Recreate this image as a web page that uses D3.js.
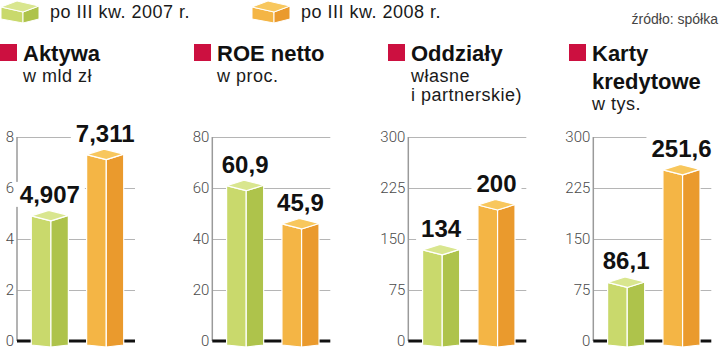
<!DOCTYPE html>
<html>
<head>
<meta charset="utf-8">
<script src="https://cdn.jsdelivr.net/npm/d3@7"></script>
<style>
  html, body { margin: 0; padding: 0; background: #fff; }
  svg { display: block; }
  .reg { font-family: "Liberation Sans", Arial, sans-serif; }
  .tick text { font-family: Roboto, "Liberation Sans", sans-serif; font-weight: 300; }
</style>
</head>
<body>
<svg id="chart" width="720" height="349"></svg>
<script>
// ---- data ----
const seriesNames = ["po III kw. 2007 r.", "po III kw. 2008 r."];
const categories = ["Aktywa", "ROE netto", "Oddziały", "Karty kredytowe"];
const values2007 = [4.907, 60.9, 134, 86.1];
const values2008 = [7.311, 45.9, 200, 251.6];
const decimals = [3, 1, 0, 1];
const axisMax = [8, 80, 300, 300];
const tickValues = [
  [0, 2, 4, 6, 8],
  [0, 20, 40, 60, 80],
  [0, 75, 150, 225, 300],
  [0, 75, 150, 225, 300]
];
const titleLines = [["Aktywa"], ["ROE netto"], ["Oddziały"], ["Karty", "kredytowe"]];
const subtitleLines = [["w mld zł"], ["w proc."], ["własne", "i partnerskie)"], ["w tys."]];
const sourceText = "źródło: spółka";

// ---- styling ----
const palette = [
  { front: "#c9d96c", side: "#aec34b", top: "#d9e68f" },
  { front: "#f4b545", side: "#ea9a2d", top: "#f8c75d" }
];
const accent = "#cc1040";

const svg = d3.select("#chart");
const plPL = d3.formatLocale({ decimal: ",", thousands: " ", grouping: [3], currency: ["", " zł"] });

const headerX = [0, 194, 388, 569];
const axisX = [17, 212.3, 408.3, 593.3];
const panelW = 118;
const yTop = 137, yBase = 341, yBottom = 347;

// Prism-shaped bar: light front face, darker side face, lit top face
function prism(g, x0, w, yv, yb, col) {
  const xm = x0 + w * 0.53, x1 = x0 + w;
  const yt = yv + 5, yl = yt - 5, yr = yt - 5.5;
  const xb = x0 + (x1 - xm), ybk = yt - 10.5;
  const faces = [
    { pts: [[x0, yl], [xm, yt], [xm, yb], [x0, yb - 2]], fill: col.front },
    { pts: [[xm, yt], [x1, yr], [x1, yb - 2], [xm, yb]], fill: col.side },
    { pts: [[x0, yl], [xm, yt], [x1, yr], [xb, ybk]], fill: col.top }
  ];
  g.selectAll(null).data(faces).enter().append("polygon")
    .attr("points", d => d.pts.map(p => p.join(",")).join(" "))
    .attr("fill", d => d.fill)
    .attr("stroke", "#fff").attr("stroke-width", 1.2).attr("stroke-linejoin", "round");
}

// ---- legend ----
function legendBox(g, x, col) {
  const faces = [
    { pts: [[x + 1, 7], [x + 23, 12], [x + 23, 23], [x + 1, 19]], fill: col.front },
    { pts: [[x + 23, 12], [x + 39, 6], [x + 39, 19], [x + 23, 23]], fill: col.side },
    { pts: [[x + 1, 7], [x + 23, 12], [x + 39, 6], [x + 17, 1]], fill: col.top }
  ];
  g.selectAll(null).data(faces).enter().append("polygon")
    .attr("points", d => d.pts.map(p => p.join(",")).join(" "))
    .attr("fill", d => d.fill)
    .attr("stroke", "#fff").attr("stroke-width", 1).attr("stroke-linejoin", "round");
}
const legend = svg.append("g");
const legendX = [0, 251];
seriesNames.forEach((name, i) => {
  legendBox(legend, legendX[i], palette[i]);
  legend.append("text").attr("class", "reg")
    .attr("x", legendX[i] + 50).attr("y", 17.5)
    .attr("font-size", 18).attr("letter-spacing", 0.5).attr("fill", "#1a1a1a")
    .text(name);
});
svg.append("text").attr("class", "reg")
  .attr("x", 718).attr("y", 24).attr("text-anchor", "end")
  .attr("font-size", 14).attr("fill", "#444")
  .text(sourceText);

// ---- panels ----
const band = d3.scaleBand().domain([0, 1]).range([1, 120]).paddingInner(0.33).paddingOuter(0.24);

categories.forEach((cat, i) => {
  const g = svg.append("g");
  const hx = headerX[i];

  // header
  g.append("rect").attr("x", hx).attr("y", 44).attr("width", 17).attr("height", 17).attr("fill", accent);
  let ty = 61;
  titleLines[i].forEach((line, k) => {
    g.append("text").attr("class", "reg")
      .attr("x", hx + 23).attr("y", ty + k * 28)
      .attr("font-size", 22).attr("font-weight", "bold").attr("fill", "#111")
      .text(line);
  });
  ty += (titleLines[i].length - 1) * 28 + 20.5;
  subtitleLines[i].forEach((line, k) => {
    g.append("text").attr("class", "reg")
      .attr("x", hx + 23).attr("y", ty + k * 19)
      .attr("font-size", 18).attr("letter-spacing", 0.5).attr("fill", "#1a1a1a")
      .text(line);
  });

  // scales and axis
  const ax = axisX[i];
  const y = d3.scaleLinear().domain([0, axisMax[i]]).range([yBase, yTop]);
  const axisG = g.append("g").attr("transform", `translate(${ax},0)`)
    .call(d3.axisLeft(y).tickValues(tickValues[i]).tickSize(-panelW).tickPadding(3).tickFormat(d3.format("d")));
  axisG.select(".domain").remove();
  axisG.selectAll(".tick line").attr("stroke", "#b5b5b5").attr("stroke-width", 1);
  axisG.selectAll(".tick text").attr("font-size", 15).attr("dy", "0.3em").attr("fill", "#4a4a4a");
  axisG.selectAll(".tick").filter(d => d === 0).select("line").remove();

  g.append("line").attr("x1", ax).attr("x2", ax).attr("y1", yTop).attr("y2", yBase)
    .attr("stroke", "#9a9a9a").attr("stroke-width", 1.5);
  g.append("line").attr("x1", ax).attr("x2", ax + panelW).attr("y1", yBase).attr("y2", yBase)
    .attr("stroke", "#111").attr("stroke-width", 3);

  const vals = [values2007[i], values2008[i]];
  const fmt = plPL.format(`.${decimals[i]}f`);

  vals.forEach((v, s) => {
    const x0 = ax + band(s);
    const bw = band.bandwidth();
    const yv = y(v);
    // value label with white knock-out behind it
    const lbl = g.append("text").attr("class", "reg")
      .attr("x", x0 + bw / 2).attr("y", yv - 13)
      .attr("text-anchor", "middle")
      .attr("font-size", 24).attr("font-weight", "bold").attr("fill", "#111")
      .text(fmt(v));
    const bb = lbl.node().getBBox();
    g.insert("rect", () => lbl.node())
      .attr("x", bb.x - 5).attr("y", bb.y + 1).attr("width", bb.width + 10).attr("height", bb.height - 2)
      .attr("fill", "#fff");
    prism(g.append("g"), x0, bw, yv, yBottom, palette[s]);
  });
});
</script>
</body>
</html>
